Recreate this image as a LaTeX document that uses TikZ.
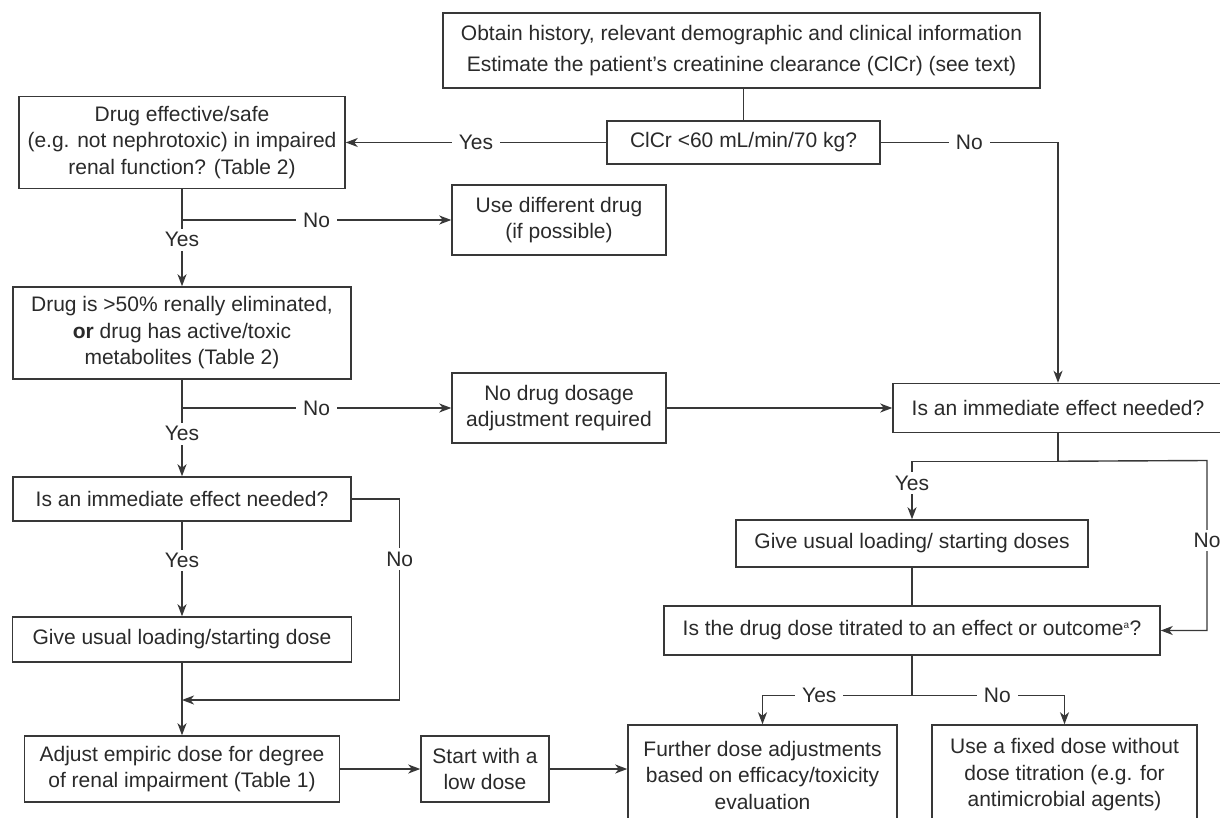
\documentclass[tikz,border=0pt]{standalone}
\usepackage{fontspec}
\setmainfont{Liberation Sans}
\usetikzlibrary{arrows.meta}
\definecolor{lc}{HTML}{383838}
\definecolor{tc}{HTML}{2A2A2A}
\begin{document}
\begin{tikzpicture}[x=1pt,y=-1pt,
  box/.style={draw=lc, line width=1.5pt, text=tc, align=center, inner sep=0pt, font=\fontsize{21}{26.5}\selectfont},
  lab/.style={fill=white, text=tc, inner xsep=7pt, inner ysep=3.5pt, font=\fontsize{21}{26.5}\selectfont},
  conn/.style={draw=lc, line width=1.4pt},
  arr/.style={draw=lc, line width=1.4pt, -{Stealth[length=12pt,width=9pt,inset=3.5pt]}}]
\useasboundingbox (0,0) rectangle (1220,818);
\clip (0,0) rectangle (1220,818);
\fill[white] (0,0) rectangle (1220,818);

\node[box, minimum width=597pt, minimum height=75pt, font=\fontsize{21}{31}\selectfont] (top) at (741.5,50.5) {Obtain history, relevant demographic and clinical information\\Estimate the patient's creatinine clearance (ClCr) (see text)};
\node[box, minimum width=273pt, minimum height=43pt] (clcr) at (743.5,142.5) {ClCr <60 mL/min/70 kg?};
\node[box, minimum width=326pt, minimum height=92pt] (d1) at (182,142.5) {Drug effective/safe\\(e.g. not nephrotoxic) in impaired\\renal function? (Table 2)};
\node[box, minimum width=214pt, minimum height=70pt] (use) at (559,220) {Use different drug\\(if possible)};
\node[box, minimum width=338pt, minimum height=92pt] (d2) at (182,333) {Drug is >50\% renally eliminated,\\\textbf{or} drug has active/toxic\\metabolites (Table 2)};
\node[box, minimum width=214pt, minimum height=70pt] (nod) at (559,408) {No drug dosage\\adjustment required};
\node[box, minimum width=338pt, minimum height=44pt] (imm1) at (182,499) {Is an immediate effect needed?};
\node[box, minimum width=330pt, minimum height=49pt] (imm2) at (1058,408) {Is an immediate effect needed?};
\node[box, minimum width=339pt, minimum height=45pt] (give1) at (182,639.5) {Give usual loading/starting dose};
\node[box, minimum width=352pt, minimum height=47pt] (give2) at (912,543.5) {Give usual loading/ starting doses};
\node[box, minimum width=496pt, minimum height=49pt] (titr) at (912,630.5) {Is the drug dose titrated to an effect or outcome\textsuperscript{\fontsize{10}{10}\selectfont a}?};
\node[box, minimum width=315pt, minimum height=66pt] (adj) at (182,769) {Adjust empiric dose for degree\\of renal impairment (Table 1)};
\node[box, minimum width=128pt, minimum height=66pt] (start) at (485,769) {Start with a\\low dose};
\node[box, minimum width=269pt, minimum height=100pt] (fur) at (762.5,775) {Further dose adjustments\\based on efficacy/toxicity\\evaluation};
\node[box, minimum width=265pt, minimum height=100pt] (fix) at (1064.5,775) {Use a fixed dose without\\dose titration (e.g. for\\antimicrobial agents)};

\draw[conn] (clcr.north) -- (clcr.north |- top.south);
\draw[arr] (clcr.west) -- node[lab]{Yes} (d1.east);
\coordinate (nc) at (1058,142.5);
\draw[arr] (clcr.east) -- node[lab]{No} (nc) -- (imm2.north);
\draw[arr] (d1.south) -- node[lab,pos=0.52]{Yes} (d2.north);
\draw[arr] (d1.south |- use.west) -- node[lab]{No} (use.west);
\draw[arr] (d2.south) -- node[lab,pos=0.56]{Yes} (imm1.north);
\draw[arr] (d2.south |- nod.west) -- node[lab]{No} (nod.west);
\draw[arr] (nod.east) -- (imm2.west);
\draw[conn] (imm2.south) -- ++(0,28) coordinate (b2);
\coordinate (b2r) at (1207,460.5);
\draw[arr] (b2) -| node[lab,pos=0.69]{Yes} (give2.north);
\draw[arr] (b2) -- (b2r) -- node[lab,pos=0.47]{No} (b2r |- titr.east) -- (titr.east);
\draw[conn] (give2.south) -- (give2.south |- titr.north);
\draw[conn] (titr.south) -- ++(0,40) coordinate (b3);
\draw[arr] (b3) -| node[lab,pos=0.31]{Yes} (fur.north);
\draw[arr] (b3) -| node[lab,pos=0.28]{No} (fix.north);
\draw[arr] (imm1.south) -- node[lab,pos=0.41]{Yes} (give1.north);
\coordinate (m1) at (182,700);
\draw[arr] (imm1.east) -- ++(48,0) coordinate (n1) -- node[lab,pos=0.3]{No} (n1 |- m1) -- (m1);
\draw[arr] (give1.south) -- (adj.north);
\draw[arr] (adj.east) -- (start.west);
\draw[arr] (start.east) -- (start.east -| fur.west);
\end{tikzpicture}
\end{document}
